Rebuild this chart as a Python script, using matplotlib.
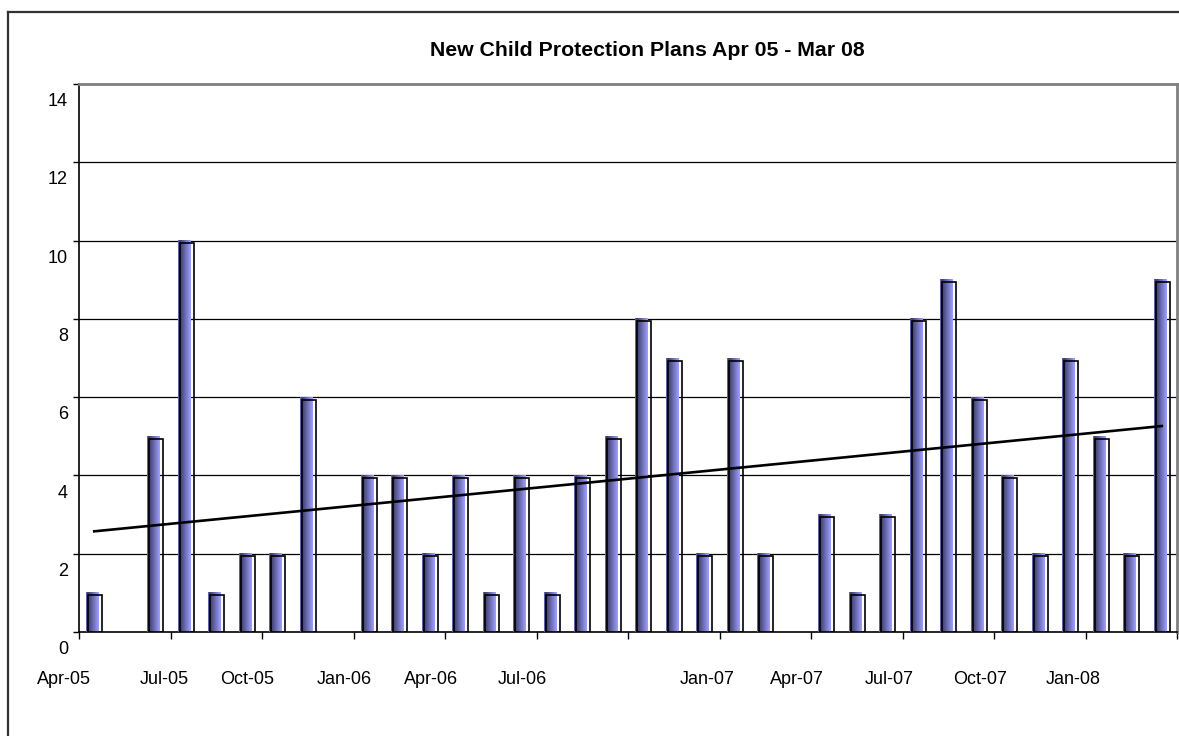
import numpy as np
import matplotlib
matplotlib.use("Agg")
import matplotlib.pyplot as plt
from matplotlib.colors import LinearSegmentedColormap
from matplotlib.patches import Rectangle
from matplotlib.lines import Line2D

months = ["Apr-05", "May-05", "Jun-05", "Jul-05", "Aug-05", "Sep-05", "Oct-05", "Nov-05", "Dec-05",
          "Jan-06", "Feb-06", "Mar-06", "Apr-06", "May-06", "Jun-06", "Jul-06", "Aug-06", "Sep-06",
          "Oct-06", "Nov-06", "Dec-06", "Jan-07", "Feb-07", "Mar-07", "Apr-07", "May-07", "Jun-07",
          "Jul-07", "Aug-07", "Sep-07", "Oct-07", "Nov-07", "Dec-07", "Jan-08", "Feb-08", "Mar-08"]
values = [1, 0, 5, 10, 1, 2, 2, 6, 0, 4, 4, 2, 4, 1, 4, 1, 4, 5,
          8, 7, 2, 7, 2, 0, 3, 1, 3, 8, 9, 6, 4, 2, 7, 5, 2, 9]
tick_labels = ["Apr-05", "Jul-05", "Oct-05", "Jan-06", "Apr-06", "Jul-06",
               "Jan-07", "Apr-07", "Jul-07", "Oct-07", "Jan-08"]
label_pos = [-1.0, 2.3, 5.0, 8.2, 11.05, 14.05, 20.1, 23.05, 26.05, 29.05, 32.1]
y_ticks = [0, 2, 4, 6, 8, 10, 12, 14]
title = "New Child Protection Plans Apr 05 - Mar 08"

plt.rcParams['font.family'] = ['Liberation Sans', 'DejaVu Sans']

W, H = 1179, 736
fig = plt.figure(figsize=(W / 100, H / 100), dpi=100)
fig.patch.set_facecolor('white')
L, R, T, B = 79, 1177, 84, 632
AW, AH = R - L, B - T
ax = fig.add_axes([L / W, 1 - B / H, AW / W, AH / H])

x = np.arange(len(values))
cmap = LinearSegmentedColormap.from_list('bar', [(0, '#7070d0'), (0.12, '#38386a'), (1, '#a0a0ff')])
grad = np.linspace(0, 1, 64).reshape(1, -1)

fw, fo = 0.40, -0.27
ow, oo = 0.45, -0.19
for xi, v in zip(x, values):
    if v <= 0:
        continue
    ax.imshow(grad, extent=[xi + fo, xi + fo + fw, 0, v], aspect='auto', cmap=cmap,
              interpolation='bilinear', zorder=3)
    ax.add_patch(Rectangle((xi + oo, 0), ow, v - 0.065, facecolor='none', edgecolor='black',
                           linewidth=1.2, zorder=4))

coef = np.polyfit(x, values, 1)
xt = np.array([x[0], x[-1]])
ax.plot(xt, np.polyval(coef, xt), color='black', linewidth=1.9, zorder=5)

ax.set_xlim(-0.5, len(values) - 0.5)
ax.set_ylim(0, 14)

# y tick marks; labels placed slightly below their gridlines as in the reference
ax.set_yticks(y_ticks)
ax.set_yticklabels([])
ax.tick_params(axis='y', direction='out', length=4, width=1)
for v in y_ticks:
    ax.text(-11 / AW, v - 0.45, str(v), transform=ax.get_yaxis_transform(),
            ha='right', va='center', fontsize=13)

ax.set_xticks(np.arange(-0.5, len(values), 3))
ax.set_xticklabels([])
ax.tick_params(axis='x', direction='out', length=5, width=1)
for p, lab in zip(label_pos, tick_labels):
    ax.text(p, -48 / AH, lab, transform=ax.get_xaxis_transform(),
            ha='center', va='center', fontsize=13)

ax.set_xlim(-0.5, len(values) - 0.5)
ax.set_ylim(0, 14)

for yv in range(2, 14, 2):
    ax.axhline(yv, color='black', linewidth=0.9, zorder=1)
ax.spines['top'].set_color('#808080')
ax.spines['top'].set_linewidth(2)
ax.spines['right'].set_color('#808080')
ax.spines['right'].set_linewidth(2)
ax.spines['left'].set_color('black')
ax.spines['bottom'].set_color('black')
ax.spines['left'].set_linewidth(1.2)
ax.spines['bottom'].set_linewidth(1.2)

fig.text(647.5 / W, 1 - 51 / H, title, fontsize=15.3, fontweight='bold', ha='center', va='center')

fig.add_artist(Line2D([8 / W, 8 / W], [0, 1 - 12 / H], transform=fig.transFigure, color='#333333', linewidth=1.6))
fig.add_artist(Line2D([8 / W, 1], [1 - 12 / H, 1 - 12 / H], transform=fig.transFigure, color='#333333', linewidth=1.6))

fig.savefig('out.png', dpi=100)
